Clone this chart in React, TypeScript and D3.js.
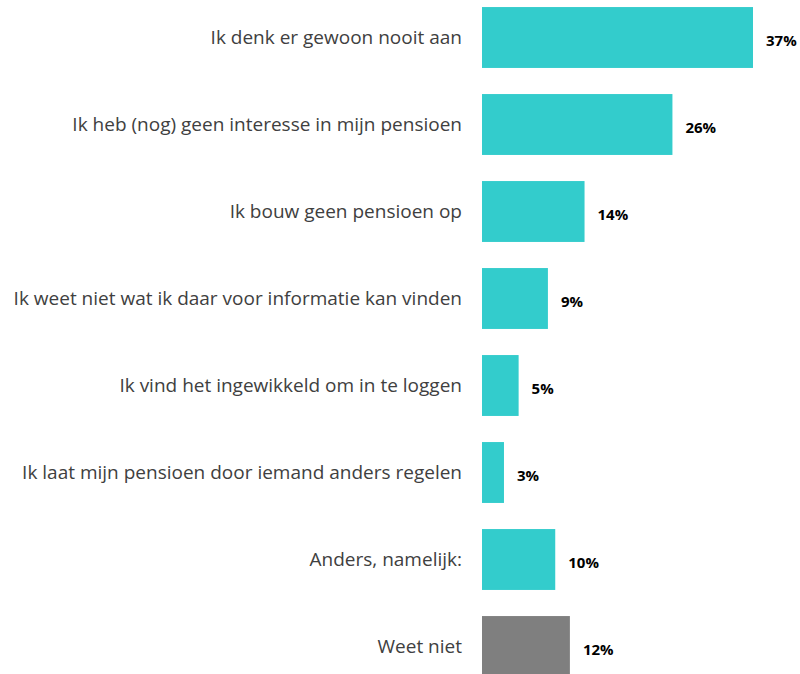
import { useEffect, useRef } from 'react';
import * as d3 from 'd3';

// categories, top to bottom
const categories = [
  'Ik denk er gewoon nooit aan',
  'Ik heb (nog) geen interesse in mijn pensioen',
  'Ik bouw geen pensioen op',
  'Ik weet niet wat ik daar voor informatie kan vinden',
  'Ik vind het ingewikkeld om in te loggen',
  'Ik laat mijn pensioen door iemand anders regelen',
  'Anders, namelijk:',
  'Weet niet',
];
const values = [37, 26, 14, 9, 5, 3, 10, 12];
const greyCategories = ['Weet niet'];

const W = 800;
const H = 674;

export default function App() {
  const svgRef = useRef<SVGSVGElement>(null);

  useEffect(() => {
    if (!svgRef.current) return;
    const svg = d3.select(svgRef.current);
    svg.selectAll('*').remove();

    const data = categories.map((c, i) => ({ cat: c, value: values[i] }));

    const x = d3.scaleLinear().domain([0, 37]).range([482, 753]);
    const y = d3.scaleBand<string>()
      .domain(categories)
      .range([-6, 690])
      .paddingInner(0.3)
      .paddingOuter(0.15);

    const g = svg.append('g');

    // bars
    g.selectAll('rect.bar')
      .data(data)
      .enter().append('rect')
      .attr('class', 'bar')
      .attr('x', x(0))
      .attr('y', d => y(d.cat)!)
      .attr('width', d => x(d.value) - x(0))
      .attr('height', y.bandwidth())
      .attr('fill', d => greyCategories.includes(d.cat) ? '#7f7f7f' : '#33cccc');

    // category labels
    g.selectAll('text.cat')
      .data(data)
      .enter().append('text')
      .attr('class', 'cat')
      .attr('x', 462)
      .attr('y', d => y(d.cat)! + y.bandwidth() / 2)
      .attr('dy', '0.35em')
      .attr('text-anchor', 'end')
      .style('font-family', '"Open Sans", sans-serif')
      .style('font-size', '19px')
      .style('fill', '#404040')
      .text(d => d.cat);

    // value labels
    g.selectAll('text.val')
      .data(data)
      .enter().append('text')
      .attr('class', 'val')
      .attr('x', d => x(d.value) + 13)
      .attr('y', d => y(d.cat)! + y.bandwidth() / 2)
      .attr('dy', '0.55em')
      .style('font-family', '"Open Sans", sans-serif')
      .style('font-size', '15px')
      .style('font-weight', 'bold')
      .style('fill', '#000')
      .text(d => `${d.value}%`);
  }, []);

  return (
    <div style={{ position: 'absolute', left: 0, top: 0 }}>
      <svg ref={svgRef} width={W} height={H} style={{ display: 'block', background: '#fff' }} />
    </div>
  );
}
